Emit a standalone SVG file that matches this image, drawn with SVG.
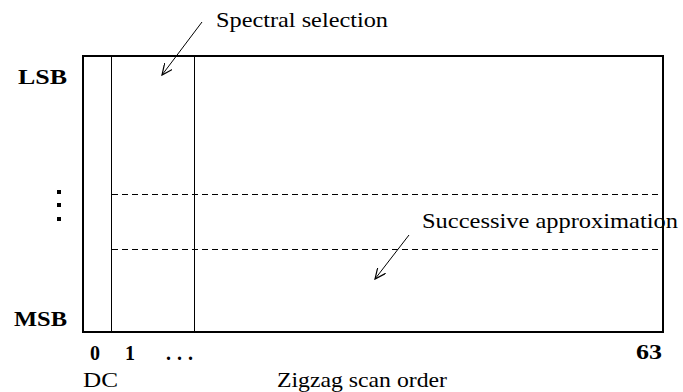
<svg xmlns="http://www.w3.org/2000/svg" width="683" height="392" viewBox="0 0 683 392">
<style>
.t{font-family:"Liberation Serif","DejaVu Serif",serif;font-size:22px;fill:#000}
.b{font-family:"Liberation Serif","DejaVu Serif",serif;font-size:20px;font-weight:bold;fill:#000}
.ln{stroke:#000;stroke-width:1;fill:none}
.dash{stroke:#000;stroke-width:1;stroke-dasharray:6 4;fill:none}
.arr{stroke:#000;stroke-width:1;fill:none;marker-end:url(#ah)}
</style>
<defs>
<marker id="ah" viewBox="0 0 12 10" refX="11" refY="5" markerWidth="12" markerHeight="10" markerUnits="userSpaceOnUse" orient="auto">
<path d="M0,0 L11,5 L0,10" fill="none" stroke="#000" stroke-width="1.2"/>
</marker>
</defs>
<g id="frame">
<rect x="83" y="56" width="580" height="276" fill="none" stroke="#000" stroke-width="2"/>
<line class="ln" x1="111.5" y1="56" x2="111.5" y2="332"/>
<line class="ln" x1="194.5" y1="56" x2="194.5" y2="332"/>
<line class="dash" x1="112" y1="194.5" x2="660" y2="194.5"/>
<line class="dash" x1="112" y1="249.5" x2="660" y2="249.5"/>
</g>
<g id="labels">
<text class="b" x="18" y="84" textLength="49" lengthAdjust="spacingAndGlyphs">LSB</text>
<text class="b" x="14" y="326" textLength="53" lengthAdjust="spacingAndGlyphs">MSB</text>
<rect x="57" y="190" width="4" height="4"/>
<rect x="57" y="203" width="4" height="4"/>
<rect x="57" y="217" width="4" height="4"/>
<text class="b" x="90" y="360">0</text>
<text class="b" x="125" y="360">1</text>
<text class="b" x="166" y="360" textLength="27" lengthAdjust="spacing">...</text>
<text class="b" x="636" y="359" textLength="26" lengthAdjust="spacingAndGlyphs">63</text>
<text class="t" x="83" y="387" textLength="35" lengthAdjust="spacingAndGlyphs">DC</text>
<text class="t" x="277" y="387" textLength="170" lengthAdjust="spacingAndGlyphs">Zigzag scan order</text>
</g>
<g id="spectral">
<text class="t" x="216" y="27" textLength="172" lengthAdjust="spacingAndGlyphs">Spectral selection</text>
</g>
<g id="successive">
<text class="t" x="422" y="228" textLength="256" lengthAdjust="spacingAndGlyphs">Successive approximation</text>
</g>
<g id="connectors">
<line class="arr" x1="202" y1="22" x2="162" y2="75"/>
<line class="arr" x1="409" y1="235" x2="375" y2="279"/>
</g>
</svg>
